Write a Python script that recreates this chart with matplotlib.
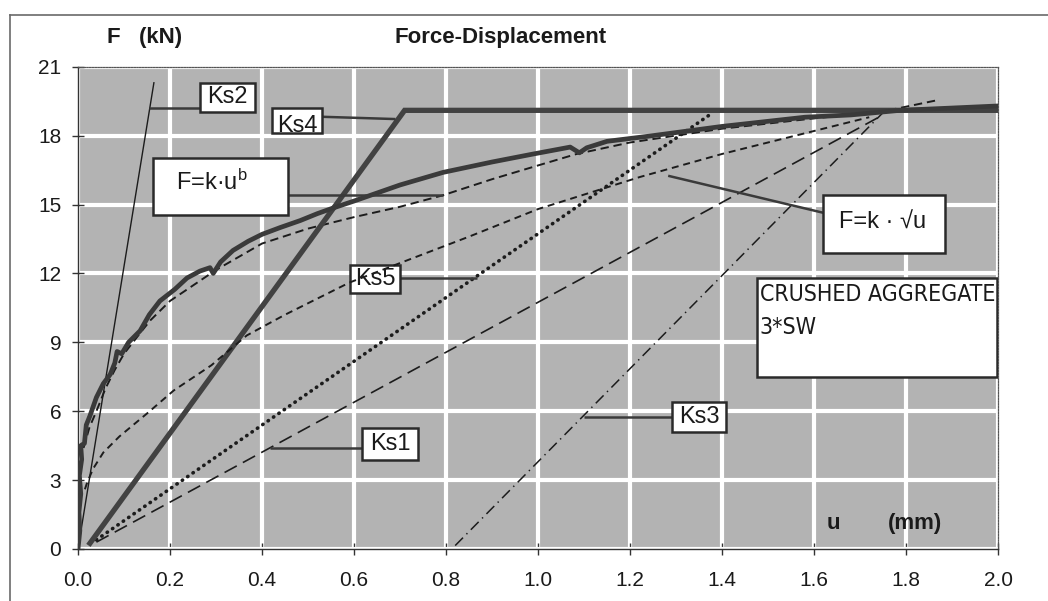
import matplotlib
matplotlib.use("Agg")
import matplotlib.pyplot as plt
from matplotlib import font_manager as fm
from matplotlib.patches import Rectangle
from matplotlib.lines import Line2D

# ---------------- data ----------------
# measured force-displacement record (u in mm, F in kN)
meas_u = [0.0, 0.004, 0.002, 0.006, 0.003, 0.008, 0.006, 0.014, 0.018, 0.026,
          0.04, 0.055, 0.07, 0.08, 0.085, 0.095, 0.11, 0.12, 0.135, 0.155,
          0.178, 0.21, 0.237, 0.265, 0.287, 0.294, 0.31, 0.337, 0.37, 0.40,
          0.44, 0.483, 0.52, 0.555, 0.60, 0.65, 0.70, 0.794, 0.90, 0.99, 1.07,
          1.09, 1.106, 1.15, 1.243, 1.40, 1.58, 1.68, 1.787, 1.90, 2.01]
meas_F = [0.0, 0.8, 1.6, 2.4, 3.2, 3.9, 4.5, 4.6, 5.4, 5.8,
          6.6, 7.2, 7.6, 8.1, 8.6, 8.5, 9.0, 9.2, 9.5, 10.2,
          10.8, 11.3, 11.8, 12.1, 12.25, 12.0, 12.5, 13.0, 13.4, 13.7,
          14.0, 14.3, 14.6, 14.85, 15.15, 15.5, 15.85, 16.4, 16.85, 17.2, 17.5,
          17.25, 17.47, 17.75, 17.98, 18.4, 18.8, 18.9, 19.1, 19.2, 19.3]

# power-law fit F = k*u^b
pow_u = [0.012, 0.025, 0.04, 0.06, 0.08, 0.10, 0.135, 0.157, 0.20, 0.30,
         0.40, 0.50, 0.60, 0.70, 0.793, 0.90, 1.00, 1.084, 1.20, 1.40,
         1.60, 1.75, 1.87]
pow_F = [4.4, 5.3, 6.0, 7.0, 7.8, 8.5, 9.4, 9.95, 10.8, 12.15,
         13.3, 13.95, 14.45, 14.9, 15.4, 16.1, 16.7, 17.2, 17.7, 18.3,
         18.75, 19.05, 19.55]

# square-root fit F = k*sqrt(u)
sqrt_u = [0.015, 0.02, 0.033, 0.055, 0.09, 0.15, 0.208, 0.29, 0.367, 0.45,
          0.59, 0.70, 0.85, 1.00, 1.222, 1.40, 1.58, 1.72]
sqrt_F = [2.6, 2.9, 3.5, 4.2, 4.9, 5.9, 6.9, 8.0, 9.3, 10.2,
          11.6, 12.45, 13.6, 14.8, 16.2, 17.2, 18.1, 18.8]

# secant / tangent stiffness lines
ks1_u = [0.04, 1.75]
ks1_F = [0.3, 18.9]
ks2_u = [0.0, 0.165]
ks2_F = [0.0, 20.3]
ks3_u = [0.82, 1.75]
ks3_F = [0.15, 19.0]
ks4_u = [0.026, 0.71, 2.0]
ks4_F = [0.25, 19.1, 19.1]
ks5_u = [0.04, 1.38]
ks5_F = [0.4, 19.0]

x_ticks = [0.0, 0.2, 0.4, 0.6, 0.8, 1.0, 1.2, 1.4, 1.6, 1.8, 2.0]
y_ticks = [0, 3, 6, 9, 12, 15, 18, 21]

# ---------------- style ----------------
plt.rcParams['font.family'] = ['Liberation Sans', 'DejaVu Sans']
plt.rcParams['mathtext.fontset'] = 'custom'
plt.rcParams['mathtext.rm'] = 'Liberation Sans'
plt.rcParams['mathtext.it'] = 'Liberation Sans'
plt.rcParams['lines.scale_dashes'] = False


def find_narrow_font():
    """Return the file of a narrow/condensed sans font if one is installed."""
    best = None
    for f in fm.fontManager.ttflist:
        name = f.name
        if 'Mono' in name or 'Serif' in name or f.style != 'normal':
            continue
        if f.weight not in (400, 'normal', 'regular', 'book'):
            continue
        if 'Liberation Sans Narrow' in name:
            return f.fname
        if ('Narrow' in name or 'Condensed' in name or
                f.stretch in ('condensed', 'semi-condensed', 'extra-condensed')):
            best = best or f.fname
    return best


DARK = '#1c1c1c'
fig = plt.figure(figsize=(10.48, 6.01), dpi=100)
W, H = 1048.0, 601.0

# outer frame of the chart object
fig.add_artist(Line2D([10 / W, 1.0], [1 - 15 / H, 1 - 15 / H], color='#6a6a6a', lw=1.2))
fig.add_artist(Line2D([10 / W, 10 / W], [0.0, 1 - 15 / H], color='#6a6a6a', lw=1.2))

ax = fig.add_axes([78 / W, 1 - 549 / H, 920 / W, (549 - 66.7) / H])
ax.set_facecolor('#b3b3b3')
ax.set_xlim(0, 2.0)
ax.set_ylim(0, 21)
ax.set_xticks(x_ticks)
ax.set_yticks(y_ticks)
ax.set_xticklabels([f'{v:.1f}' for v in x_ticks])
ax.set_yticklabels([str(v) for v in y_ticks])
ax.tick_params(axis='both', direction='inout', length=8, width=1.0, color='#333333',
               labelsize=15, labelcolor='#1a1a1a')
ax.tick_params(axis='x', pad=12)
ax.tick_params(axis='y', pad=8)
ax.grid(True, color='white', lw=3.0, zorder=0)
ax.set_axisbelow(True)
for s in ['left', 'bottom']:
    ax.spines[s].set_color('#333333')
    ax.spines[s].set_linewidth(1.0)
for s in ['top', 'right']:
    ax.spines[s].set_color('#555555')
    ax.spines[s].set_linewidth(0.9)
    ax.spines[s].set_linestyle((0, (1, 1)))

# ---------------- curves ----------------
ax.plot(ks2_u, ks2_F, color=DARK, lw=1.0, zorder=3)
ax.plot(ks1_u, ks1_F, color=DARK, lw=1.2, ls=(0, (10, 5)), zorder=3)
ax.plot(ks3_u, ks3_F, color=DARK, lw=1.1, ls=(0, (8, 3.5, 1, 3.5)), zorder=3)
ax.plot(ks5_u, ks5_F, color=DARK, lw=2.6, ls=(0, (0.3, 4.4)),
        dash_capstyle='round', zorder=3)
ax.plot(pow_u, pow_F, color=DARK, lw=1.4, ls=(0, (6, 3.5)), zorder=3)
ax.plot(ks4_u, ks4_F, color='#424242', lw=3.8, solid_joinstyle='miter', zorder=4)
ax.plot(meas_u, meas_F, color='#3a3a3a', lw=3.4, solid_joinstyle='round', zorder=5)


def label_box(x0, x1, y0, y1, text, tx, ty, size=17, z=6, **kw):
    ax.add_patch(Rectangle((x0, y0), x1 - x0, y1 - y0, facecolor='white',
                           edgecolor='#2a2a2a', lw=1.8, zorder=z))
    return ax.text(tx, ty, text, fontsize=size, color='#1a1a1a', zorder=z + 0.1, **kw)


def pointer(xs, ys):
    ax.plot(xs, ys, color='#3a3a3a', lw=1.8, zorder=5.5, solid_capstyle='butt')


# labels with leader lines
pointer([0.155, 0.265], [19.2, 19.2])
label_box(0.265, 0.385, 19.04, 20.3, 'Ks2', 0.325, 19.67, ha='center', va='center')

pointer([0.53, 0.69], [18.82, 18.72])
label_box(0.422, 0.530, 18.1, 19.2, 'Ks4', 0.476, 18.4, ha='center', va='center')

pointer([0.457, 0.793], [15.42, 15.42])
label_box(0.163, 0.457, 14.55, 17.04, 'F=k·u$^{\\mathrm{b}}$', 0.29, 15.95,
          ha='center', va='center')

pointer([0.70, 0.868], [11.8, 11.8])
label_box(0.591, 0.700, 11.15, 12.37, 'Ks5', 0.646, 11.74, ha='center', va='center')

pointer([0.417, 0.617], [4.4, 4.4])
label_box(0.617, 0.739, 3.88, 5.27, 'Ks1', 0.678, 4.58, ha='center', va='center')

pointer([1.10, 1.291], [5.75, 5.75])
label_box(1.291, 1.409, 5.1, 6.4, 'Ks3', 1.35, 5.75, ha='center', va='center')

pointer([1.283, 1.62], [16.25, 14.64])
label_box(1.62, 1.885, 12.9, 15.42, 'F=k · √u', 1.75, 14.2, ha='center', va='center')

# specimen description box, text narrowed to fit inside
ax.add_patch(Rectangle((1.476, 7.49), 0.522, 4.32, facecolor='white',
                       edgecolor='#2a2a2a', lw=1.8, zorder=6))
narrow = find_narrow_font()
if narrow:
    desc_font = fm.FontProperties(fname=narrow, size=17)
else:
    desc_font = fm.FontProperties(family='Liberation Sans', size=17)
t1 = ax.text(1.482, 11.07, 'CRUSHED AGGREGATE', fontproperties=desc_font,
             color='#1a1a1a', ha='left', va='center', zorder=6.1)
t2 = ax.text(1.482, 9.65, '3*SW', fontproperties=desc_font,
             color='#1a1a1a', ha='left', va='center', zorder=6.1)
fig.canvas.draw()
target_w = 236.0
w_now = t1.get_window_extent().width
if w_now > target_w:
    new_size = 17 * target_w / w_now
    t1.set_fontsize(new_size)
    t2.set_fontsize(new_size)

# square-root fit drawn over the Ks5 label
ax.plot(sqrt_u, sqrt_F, color=DARK, lw=1.4, ls=(0, (5, 3.5)), zorder=7)

# axis captions
ax.text(1.643, 1.13, 'u', fontsize=16, fontweight='bold', color='#1a1a1a',
        ha='center', va='center', zorder=8)
ax.text(1.82, 1.13, '(mm)', fontsize=16, fontweight='bold', color='#1a1a1a',
        ha='center', va='center', zorder=8)
fig.text(107 / W, 1 - 37 / H, 'F   (kN)', fontsize=16, fontweight='bold',
         color='#1a1a1a', ha='left', va='center')
fig.text(501 / W, 1 - 37 / H, 'Force-Displacement', fontsize=16, fontweight='bold',
         color='#1a1a1a', ha='center', va='center')

fig.savefig('out.png', dpi=100)
